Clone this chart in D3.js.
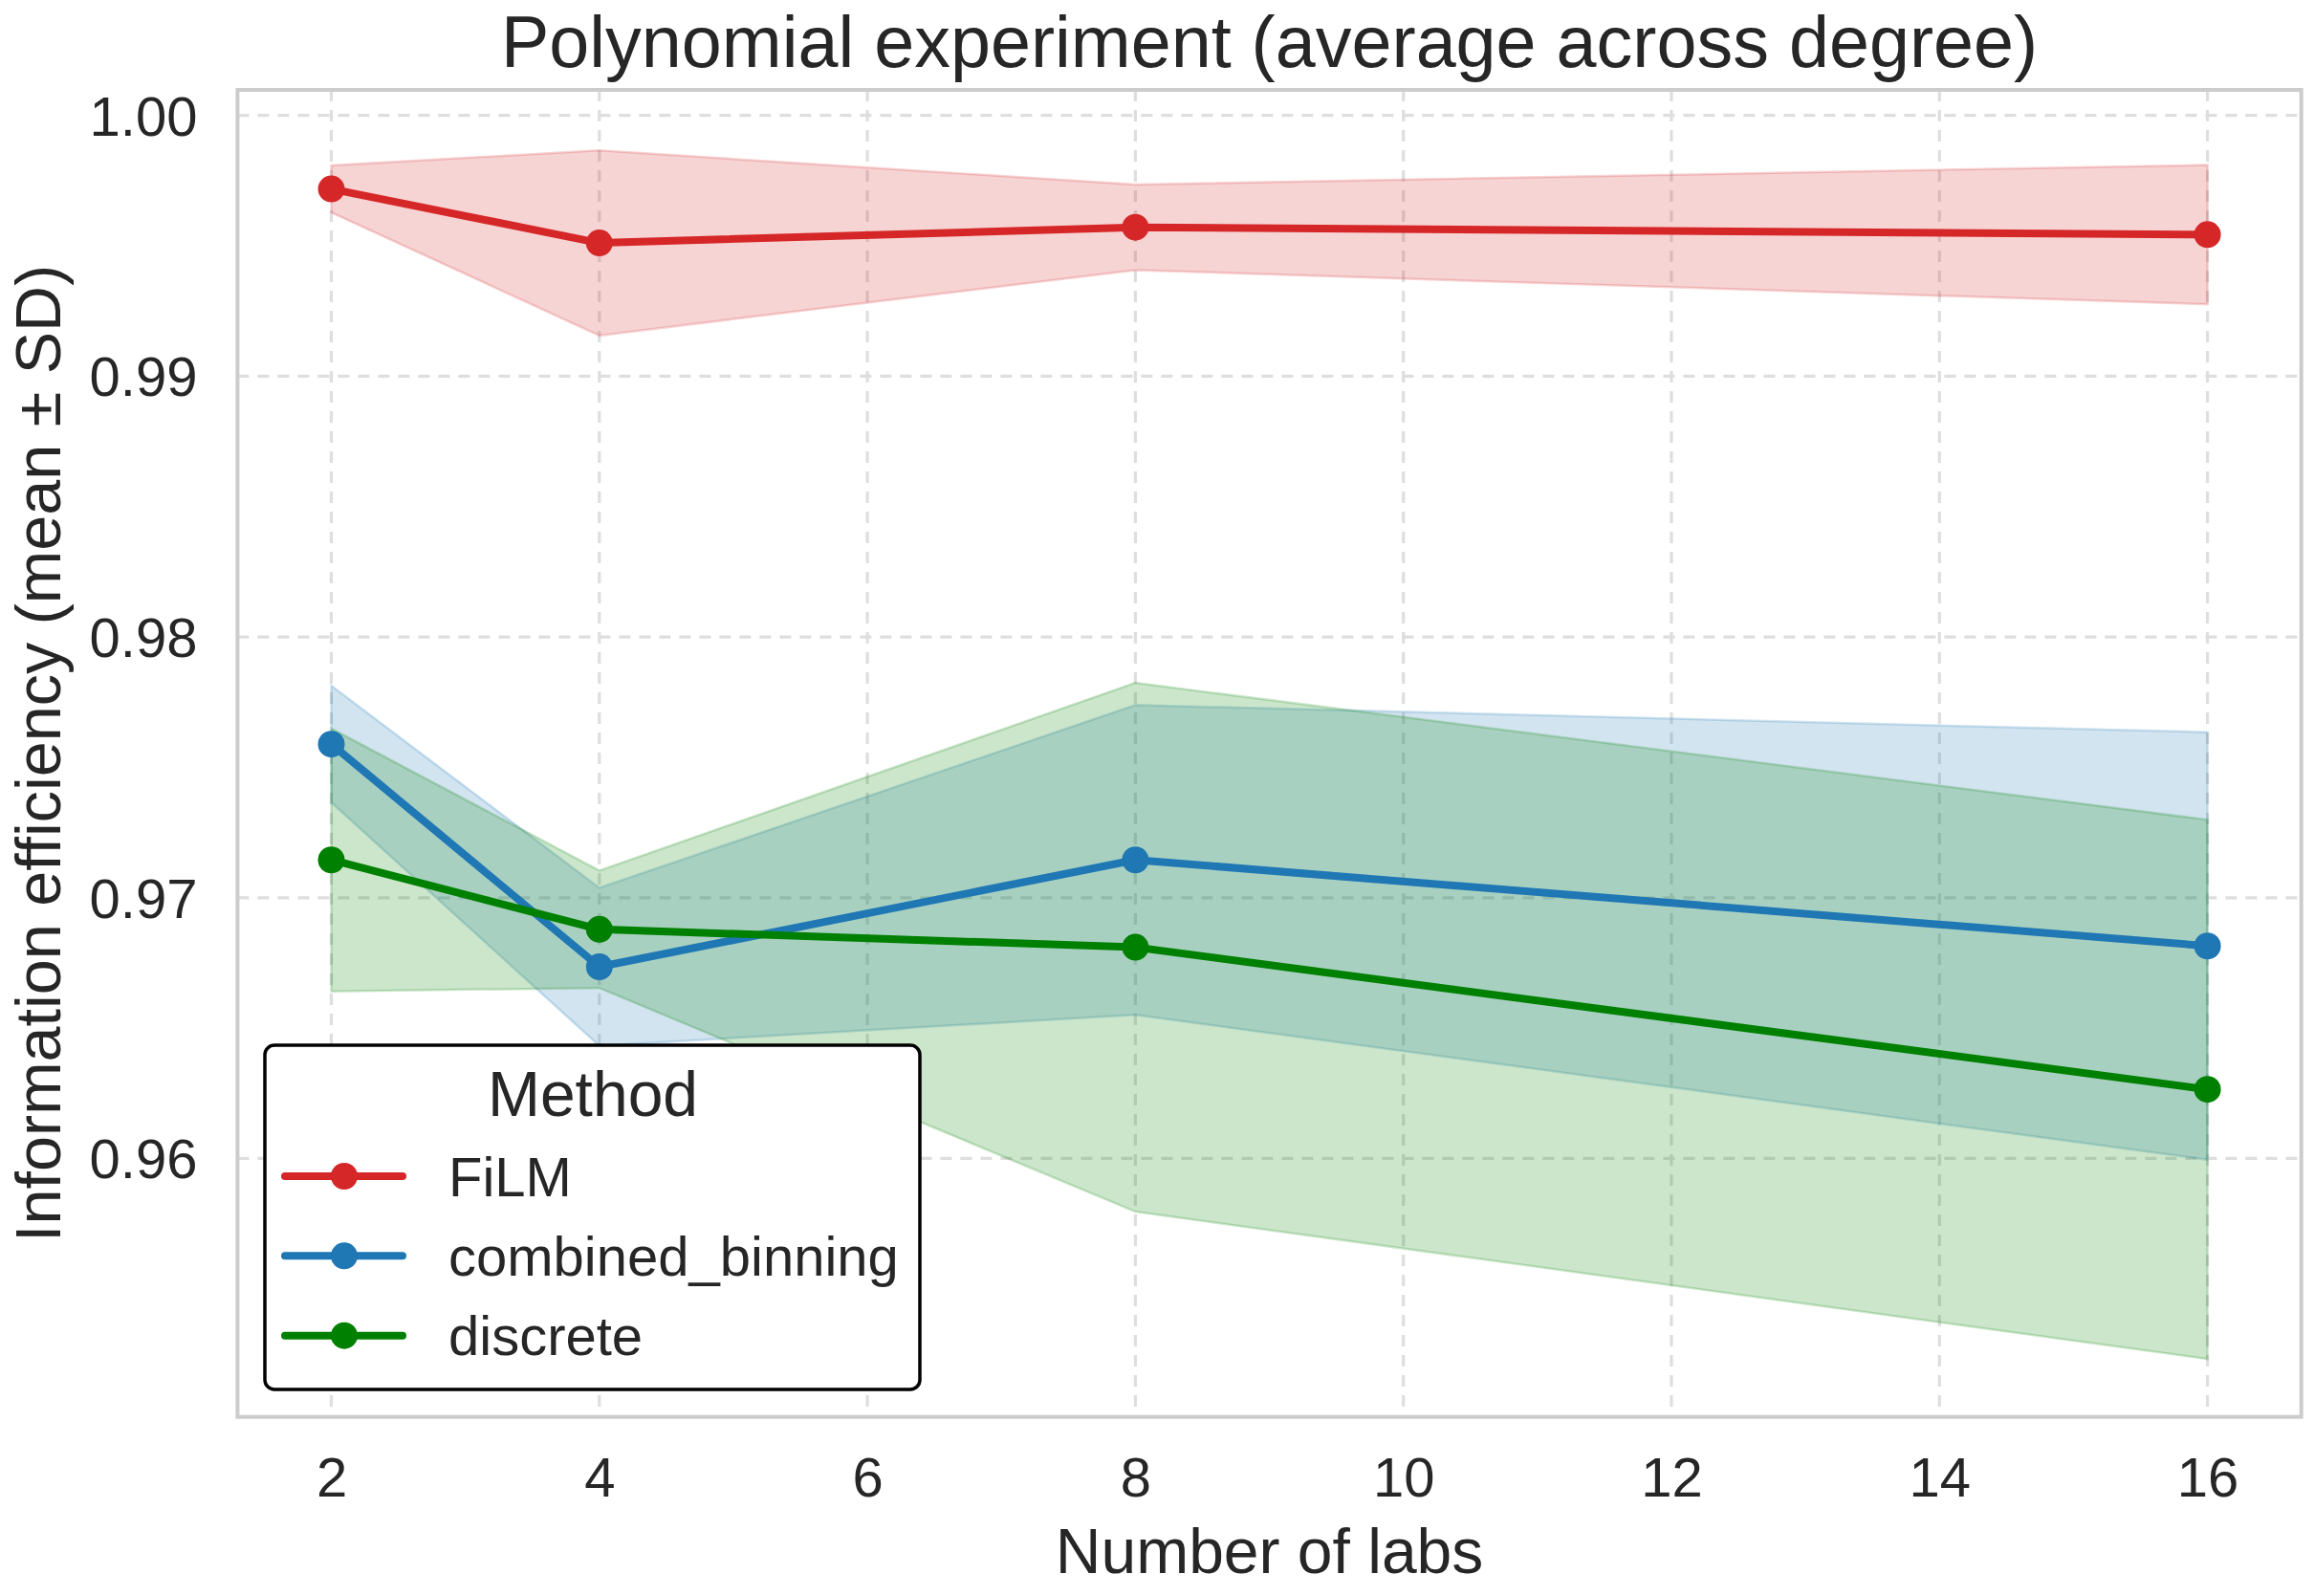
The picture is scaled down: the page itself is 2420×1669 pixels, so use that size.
<!DOCTYPE html>
<html>
<head>
<meta charset="utf-8">
<script src="https://cdn.jsdelivr.net/npm/d3@7"></script>
<style>
  html, body { margin: 0; padding: 0; background: #ffffff; }
  svg { display: block; }
  text { font-family: "Liberation Sans", Arial, sans-serif; fill: #262626; }
</style>
</head>
<body>
<svg id="chart" width="2420" height="1669"></svg>
<script>
// ---- data ----
const labs = [2, 4, 8, 16];
const methods = ["FiLM", "combined_binning", "discrete"];
const colors = ["#d62728", "#1f77b4", "#008000"];
const filmMean = [0.99718, 0.99511, 0.99571, 0.99543];
const filmSD = [0.00090, 0.00355, 0.00164, 0.00267];
const binningMean = [0.97589, 0.96735, 0.97145, 0.96815];
const binningSD = [0.00224, 0.00303, 0.00594, 0.00820];
const discreteMean = [0.97145, 0.96879, 0.96810, 0.96265];
const discreteSD = [0.00504, 0.00225, 0.01014, 0.01034];
const xTicks = [2, 4, 6, 8, 10, 12, 14, 16];
const yTicks = [0.96, 0.97, 0.98, 0.99, 1.00];
const titleText = "Polynomial experiment (average across degree)";
const xLabelText = "Number of labs";
const yLabelText = "Information efficiency (mean ± SD)";
const legendTitle = "Method";

const means = [filmMean, binningMean, discreteMean];
const sds = [filmSD, binningSD, discreteSD];

// ---- layout ----
const L = 248.4, R = 2406.7, T = 94, B = 1481.7;
const svg = d3.select("#chart");
svg.append("rect").attr("width", 2420).attr("height", 1669).attr("fill", "#fff");

const x = d3.scaleLinear().domain([1.3, 16.7]).range([L, R]);
const y = d3.scaleLinear().domain([0.95009, 1.00098]).range([B, T]);

// grid
const grid = svg.append("g");
grid.selectAll("line.gx").data(xTicks).join("line")
  .attr("x1", d => x(d)).attr("x2", d => x(d)).attr("y1", T).attr("y2", B)
  .attr("stroke", "#dedede").attr("stroke-width", 3.2).attr("stroke-dasharray", "12,9");
grid.selectAll("line.gy").data(yTicks).join("line")
  .attr("y1", d => y(d)).attr("y2", d => y(d)).attr("x1", L).attr("x2", R)
  .attr("stroke", "#dedede").attr("stroke-width", 3.2).attr("stroke-dasharray", "12,9");

// axes (labels via d3 axes, no tick lines)
const xAxis = d3.axisBottom(x).tickValues(xTicks).tickSize(0).tickPadding(0).tickFormat(d3.format("d"));
const gx = svg.append("g").attr("transform", `translate(0,${B})`).call(xAxis);
gx.select(".domain").remove();
gx.selectAll("text").attr("font-size", 58).attr("fill", "#262626")
  .attr("dy", null).attr("y", 83)
  .style("font-family", '"Liberation Sans", Arial, sans-serif');

const yAxis = d3.axisLeft(y).tickValues(yTicks).tickSize(0).tickPadding(0).tickFormat(d3.format(".2f"));
const gy = svg.append("g").attr("transform", `translate(${L},0)`).call(yAxis);
gy.select(".domain").remove();
gy.selectAll("text").attr("font-size", 58).attr("fill", "#262626")
  .attr("dy", null).attr("x", -42).attr("y", 20.5)
  .style("font-family", '"Liberation Sans", Arial, sans-serif');

// bands
const area = d3.area()
  .x(d => x(d.x)).y0(d => y(d.m - d.s)).y1(d => y(d.m + d.s));
const line = d3.line().x(d => x(d.x)).y(d => y(d.m));

const series = methods.map((name, i) => ({
  name, color: colors[i],
  pts: labs.map((lx, j) => ({ x: lx, m: means[i][j], s: sds[i][j] }))
}));

svg.append("g").selectAll("path").data(series).join("path")
  .attr("d", d => area(d.pts))
  .attr("fill", d => d.color).attr("fill-opacity", 0.2)
  .attr("stroke", d => d.color).attr("stroke-opacity", 0.2).attr("stroke-width", 2.5);

// lines + markers
const lg = svg.append("g");
series.forEach(s => {
  lg.append("path").attr("d", line(s.pts)).attr("fill", "none")
    .attr("stroke", s.color).attr("stroke-width", 8).attr("stroke-linejoin", "round").attr("stroke-linecap", "round");
  lg.selectAll(null).data(s.pts).join("circle")
    .attr("cx", d => x(d.x)).attr("cy", d => y(d.m)).attr("r", 14).attr("fill", s.color);
});

// frame
svg.append("rect").attr("x", L).attr("y", T).attr("width", R - L).attr("height", B - T)
  .attr("fill", "none").attr("stroke", "#cccccc").attr("stroke-width", 4);

// title & labels
svg.append("text").attr("x", (L + R) / 2).attr("y", 70).attr("text-anchor", "middle")
  .attr("font-size", 75.5).text(titleText);
svg.append("text").attr("x", (L + R) / 2).attr("y", 1645).attr("text-anchor", "middle")
  .attr("font-size", 66).text(xLabelText);
svg.append("text").attr("transform", `translate(63,${(T + B) / 2}) rotate(-90)`)
  .attr("text-anchor", "middle").attr("font-size", 66.5).text(yLabelText);

// legend
const leg = svg.append("g");
leg.append("rect").attr("x", 277).attr("y", 1093).attr("width", 685).attr("height", 360)
  .attr("rx", 10).attr("fill", "#fff").attr("stroke", "#000").attr("stroke-width", 3.5);
leg.append("text").attr("x", 620).attr("y", 1167).attr("text-anchor", "middle")
  .attr("font-size", 66).text(legendTitle);
const entryY = [1230, 1313.3, 1396.7];
series.forEach((s, i) => {
  const g = leg.append("g");
  g.append("line").attr("x1", 298).attr("x2", 421).attr("y1", entryY[i]).attr("y2", entryY[i])
    .attr("stroke", s.color).attr("stroke-width", 8).attr("stroke-linecap", "round");
  g.append("circle").attr("cx", 360).attr("cy", entryY[i]).attr("r", 14).attr("fill", s.color);
  g.append("text").attr("x", 469).attr("y", entryY[i] + 20.7).attr("font-size", 58).text(s.name);
});
</script>
</body>
</html>
